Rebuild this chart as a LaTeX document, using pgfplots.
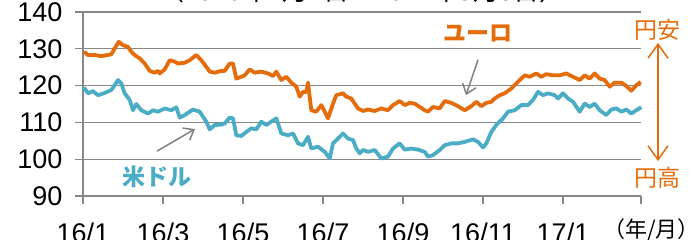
\documentclass[border=0pt]{standalone}
\usepackage{pgfplots}
\pgfplotsset{compat=1.18}
\usepackage{fontspec}
\setmainfont{Liberation Sans}
\newfontfamily\jp{Noto Sans CJK JP}
\usetikzlibrary{arrows.meta}
\definecolor{eur}{RGB}{228,108,10}
\definecolor{usd}{RGB}{75,172,198}
\definecolor{gridc}{RGB}{134,134,134}
\definecolor{arrc}{RGB}{128,128,128}
\begin{document}
\begin{tikzpicture}
\begin{axis}[
  scale only axis, width=558pt, height=184pt,
  at={(0,0)}, anchor=south west,
  xmin=0, xmax=558, ymin=90, ymax=140,
  ytick={90,100,110,120,130,140},
  xtick={0,80,160,240,320,400,480,558},
  xticklabels={16/1,16/3,16/5,16/7,16/9,16/11,17/1,{}},
  ymajorgrids, grid style={gridc, line width=1.3pt},
  axis x line*=bottom, axis y line*=left,
  axis line style={gridc, line width=1.3pt},
  tick style={gridc, line width=1.3pt},
  tick align=outside, major tick length=8pt,
  /pgf/number format/assume math mode=true,
  tick label style={font=\fontsize{27}{27}\selectfont, black},
  yticklabel style={xshift=-9pt},
  xticklabel style={yshift=-15pt},
  clip=false,
]
\addplot[eur, line width=3.8pt, line join=round] coordinates {
(1,129.2)(5,128.3)(11.7,128.3)(18.3,128.0)(28.3,128.5)(31.7,130.1)(35.7,131.9)(40,131.0)(45,130.5)(48.3,129.2)
(51.7,128.3)(56.7,127.4)(61.7,126.0)(66.7,124.0)(71.7,123.5)(75,124.0)(76.7,123.3)(81.7,124.4)(86.7,126.9)(91.7,126.5)
(95,126.0)(101.7,126.2)(106.7,126.9)(113.3,128.3)(118.3,126.9)(123.3,125.1)(126.7,123.8)(131.7,123.5)(138.3,124.0)(141.7,124.0)
(146.7,126.0)(150,126.0)(153.3,121.9)(158.3,122.4)(161.7,122.8)(166.7,124.4)(171.7,123.5)(178.3,123.8)(185,123.3)(190,122.6)
(193.3,123.8)(198.3,121.5)(203.3,122.4)(208.3,120.8)(213.3,119.7)(216.7,117.0)(220,118.3)(223.3,118.3)(225,120.8)(228.3,113.3)
(233.3,112.9)(238.3,114.7)(245,111.1)(250,115.1)(253.3,117.4)(260,117.9)(263.3,117.0)(268.3,116.5)(271.7,115.1)(275,113.8)
(280,113.1)(285,113.5)(291.7,113.1)(298.3,113.8)(305,113.3)(310,114.7)(316.7,115.8)(321.7,114.7)(326.7,115.3)(331.7,115.1)
(336.7,114.2)(341.7,113.3)(345,112.9)(350,114.2)(356.7,113.8)(361.7,115.8)(368.3,115.3)(375,114.4)(381.7,113.3)(388.3,114.4)
(393.3,115.6)(398.3,114.4)(403.3,115.3)(408.3,115.6)(411.7,116.5)(416.7,117.4)(421.7,117.9)(428.3,119.2)(433.3,120.6)(438.3,121.9)
(441.7,122.8)(446.7,122.4)(453.3,123.3)(458.3,122.4)(463.3,123.1)(470,122.8)(476.7,122.8)(483.3,123.3)(490,122.4)(496.7,121.5)
(501.7,122.8)(506.7,121.9)(511.7,123.3)(516.7,121.9)(521.7,121.5)(526.7,119.7)(531.7,120.8)(538.3,120.8)(543.3,119.9)(548.3,118.6)
(553.3,120.1)(557.7,121.0)
};
\addplot[usd, line width=3.8pt, line join=round] coordinates {
(1,119.5)(5,117.9)(10,118.5)(15,117.4)(21.7,118.0)(28.3,118.8)(31.7,120.1)(35,121.5)(38.3,120.6)(41.7,117.9)
(46.7,116.1)(50,113.3)(53.3,115.0)(58.3,113.3)(65,112.4)(70,113.3)(75,112.9)(81.7,113.8)(88.3,113.3)(93.3,114.1)
(96.7,111.3)(101.7,112.0)(110,113.5)(116.7,112.9)(123.3,110.2)(126.7,108.1)(131.7,109.3)(138.3,109.4)(141.7,109.7)(146.7,111.3)
(150,111.1)(153.3,106.5)(158.3,106.3)(163.3,107.4)(168.3,108.4)(173.3,108.1)(178.3,110.2)(183.3,109.3)(188.3,110.2)(193.3,111.1)
(198.3,107.0)(205,106.5)(210,107.0)(215,104.3)(220,103.8)(225,106.1)(228.3,102.9)(235,103.4)(241.7,102.0)(246.7,100.2)
(250,104.3)(255,105.6)(260,107.0)(265,105.6)(270,105.2)(273.3,102.9)(276.7,101.6)(280,102.5)(285,102.0)(291.7,102.5)
(298.3,100.2)(305,100.7)(310,102.9)(316.7,104.3)(321.7,102.6)(328.3,102.9)(335,102.6)(341.7,102.0)(345,100.7)(350,101.1)
(356.7,102.5)(361.7,103.8)(368.3,104.3)(375,104.3)(381.7,104.7)(390,105.4)(395,104.7)(400,103.2)(403.3,104.3)(408.3,107.4)
(413.3,109.3)(420,111.1)(425,112.9)(431.7,113.3)(438.3,114.7)(445,114.7)(450,116.1)(455,118.3)(460,117.4)(465,117.9)
(471.7,117.4)(475,116.5)(480,117.9)(485,116.5)(490,115.6)(496.7,112.9)(501.7,115.1)(506.7,114.2)(511.7,115.1)(516.7,113.3)
(523.3,112.0)(528.3,113.5)(533.3,113.8)(538.3,112.9)(543.3,113.5)(548.3,112.4)(553.3,113.3)(558.3,114.1)
};
% annotations
\draw[arrc, line width=1.5pt, -{Straight Barb[length=9pt,width=14pt]}] (axis cs:395,127.0) -- (axis cs:383,117.4);
\draw[arrc, line width=1.5pt, -{Straight Barb[length=9pt,width=14pt]}] (axis cs:74,102.2) -- (axis cs:112,108.2);
\draw[eur, line width=1.5pt, {Straight Barb[length=14pt,width=20pt]}-{Straight Barb[length=14pt,width=20pt]}] (axis cs:575,131.6) -- (axis cs:575,99.5);
\node[eur, font=\jp\bfseries\fontsize{23}{23}\selectfont, inner sep=0pt] at (axis cs:395,134.3) {ユーロ};
\node[usd, font=\jp\bfseries\fontsize{23}{23}\selectfont, inner sep=0pt] at (axis cs:74,95.2) {米ドル};
\node[eur, font=\jp\fontsize{23}{23}\selectfont, inner sep=0pt] at (axis cs:574,135.1) {円安};
\node[eur, font=\jp\fontsize{23}{23}\selectfont, inner sep=0pt] at (axis cs:574,94.9) {円高};
\node[black, font=\jp\fontsize{22}{22}\selectfont, inner sep=0pt, anchor=base] at (axis cs:568.5,78.8) {（年/月）};
\node[black, font=\jp\fontsize{26}{26}\selectfont, inner sep=0pt, anchor=base] at (axis cs:279,143.2) {（2016年1月1日～2017年3月3日）};
\end{axis}
\pgfresetboundingbox
\useasboundingbox (-83pt,-44pt) rectangle (609pt,196pt);
\end{tikzpicture}
\end{document}
